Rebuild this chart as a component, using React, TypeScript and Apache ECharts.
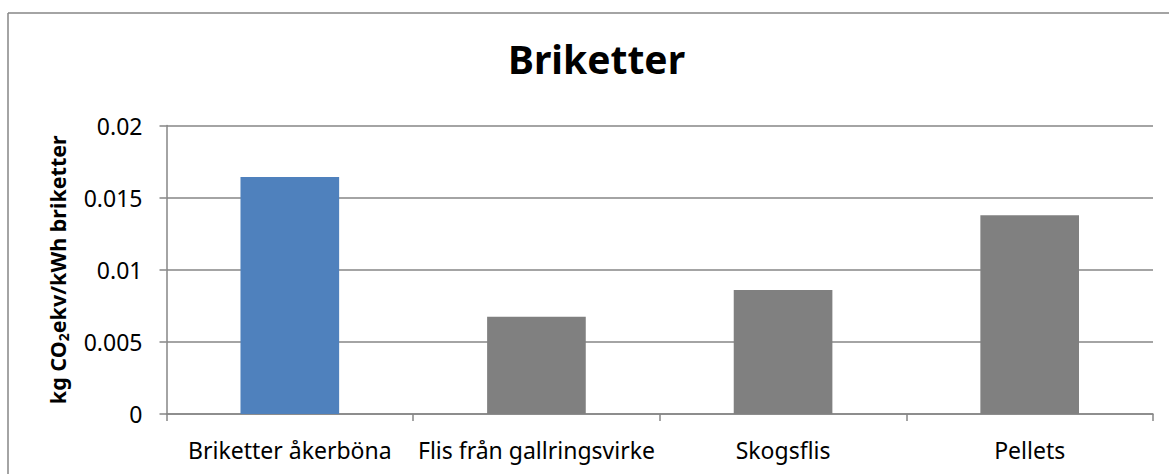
import React, { useEffect, useRef } from "react";
import * as echarts from "echarts";

const categories = ["Briketter åkerböna", "Flis från gallringsvirke", "Skogsflis", "Pellets"];
const values = [0.01643, 0.00675, 0.00859, 0.01378];
const barColors = ["#4F81BD", "#808080", "#808080", "#808080"];
const yTicks = { min: 0, max: 0.02, interval: 0.005 };
const titleText = "Briketter";

const FONT = "'Noto Sans', 'Open Sans', sans-serif";

export default function App() {
  const ref = useRef<HTMLDivElement>(null);
  useEffect(() => {
    if (!ref.current) return;
    const chart = echarts.init(ref.current, undefined, { renderer: "svg" });
    chart.setOption({
      animation: false,
      backgroundColor: "#ffffff",
      title: {
        text: titleText,
        left: 508,
        top: 39,
        padding: 0,
        textStyle: { fontFamily: FONT, fontSize: 39, fontWeight: "bold", color: "#000" },
      },
      graphic: [
        { type: "line", shape: { x1: 8, y1: 13, x2: 8, y2: 474 }, style: { stroke: "#868686", lineWidth: 1.5 } },
        { type: "line", shape: { x1: 8, y1: 13, x2: 1169, y2: 13 }, style: { stroke: "#868686", lineWidth: 1.5 } },
      ],
      grid: { left: 166.5, right: 16, top: 125.5, bottom: 60, containLabel: false },
      xAxis: {
        type: "category",
        data: categories,
        axisLine: { lineStyle: { color: "#868686", width: 1.5 } },
        axisTick: { show: true, alignWithLabel: false, length: 7, lineStyle: { color: "#868686", width: 1.5 } },
        axisLabel: { fontFamily: FONT, fontSize: 23, color: "#000", margin: 24, interval: 0 },
      },
      yAxis: {
        type: "value",
        min: yTicks.min,
        max: yTicks.max,
        interval: yTicks.interval,
        name: "{a|kg CO}{s|2}{a|ekv/kWh briketter}",
        nameLocation: "middle",
        nameRotate: 90,
        nameGap: 96,
        nameTextStyle: {
          rich: {
            a: { fontFamily: FONT, fontSize: 21.5, fontWeight: "bold", color: "#000", lineHeight: 27 },
            s: { fontFamily: FONT, fontSize: 14, fontWeight: "bold", color: "#000", lineHeight: 15, verticalAlign: "bottom" },
          },
        },
        axisLine: { show: true, lineStyle: { color: "#868686", width: 1.5 } },
        axisTick: { show: true, length: 7, lineStyle: { color: "#868686", width: 1.5 } },
        splitLine: { show: true, lineStyle: { color: "#868686", width: 1.5 } },
        axisLabel: {
          fontFamily: FONT,
          fontSize: 23,
          color: "#000",
          margin: 24,
          formatter: (v: number) => String(parseFloat(v.toFixed(4))),
        },
      },
      series: [
        {
          type: "bar",
          data: values.map((v, i) => ({ value: v, itemStyle: { color: barColors[i] } })),
          barWidth: "40%",
        },
      ],
    });
    return () => chart.dispose();
  }, []);
  return (
    <div
      ref={ref}
      style={{ position: "fixed", left: 0, top: 0, width: 1169, height: 474 }}
    />
  );
}
